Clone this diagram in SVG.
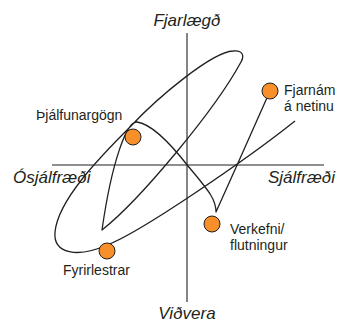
<svg xmlns="http://www.w3.org/2000/svg" width="339" height="323" viewBox="0 0 339 323">
  <style>
    .axis { stroke: #231f20; stroke-width: 1.1; fill: none; }
    .curve { stroke: #231f20; stroke-width: 1.3; fill: none; stroke-linejoin: round; }
    .dot { fill: #f7902a; stroke: #231f20; stroke-width: 1; }
    .ax { font-family: "Liberation Sans", Arial, sans-serif; font-style: italic; font-size: 17px; fill: #231f20; }
    .lbl { font-family: "Liberation Sans", Arial, sans-serif; font-size: 14px; fill: #231f20; }
  </style>
  <rect width="339" height="323" fill="#ffffff"/>
  <g id="axes">
    <line class="axis" x1="187" y1="33" x2="187" y2="302"/>
    <line class="axis" x1="52" y1="165" x2="324" y2="165"/>
    <text class="ax" x="187" y="26" text-anchor="middle">Fjarlægð</text>
    <text class="ax" x="187" y="319" text-anchor="middle">Viðvera</text>
    <text class="ax" x="13" y="183">Ósjálfræði</text>
    <text class="ax" x="268" y="183">Sjálfræði</text>
  </g>
  <g id="connectors">
    <path class="curve" d="M270,91 L238,163 L216,212 C216,200 210,192 188,166 C170,143 152,124 137,122 C127,121 112,160 102,230 C140,200 215,110 241,62 C245,55 242,50 233,51 C212,52 158,97 130,127 C100,157 58,200 55,232 C53,254 78,258 107,245 C140,233 250,157 295,121"/>
  </g>
  <g id="node-fjarnam">
    <circle class="dot" cx="270" cy="91" r="8"/>
    <text class="lbl" x="284" y="95">Fjarnám</text>
    <text class="lbl" x="284" y="111">á netinu</text>
  </g>
  <g id="node-thjalfunargogn">
    <circle class="dot" cx="133" cy="137" r="8"/>
    <text class="lbl" x="36" y="120">Þjálfunargögn</text>
  </g>
  <g id="node-verkefni">
    <circle class="dot" cx="212" cy="224" r="8"/>
    <text class="lbl" x="230" y="234">Verkefni/</text>
    <text class="lbl" x="230" y="250">flutningur</text>
  </g>
  <g id="node-fyrirlestrar">
    <circle class="dot" cx="107" cy="251" r="8"/>
    <text class="lbl" x="63" y="275">Fyrirlestrar</text>
  </g>
</svg>
